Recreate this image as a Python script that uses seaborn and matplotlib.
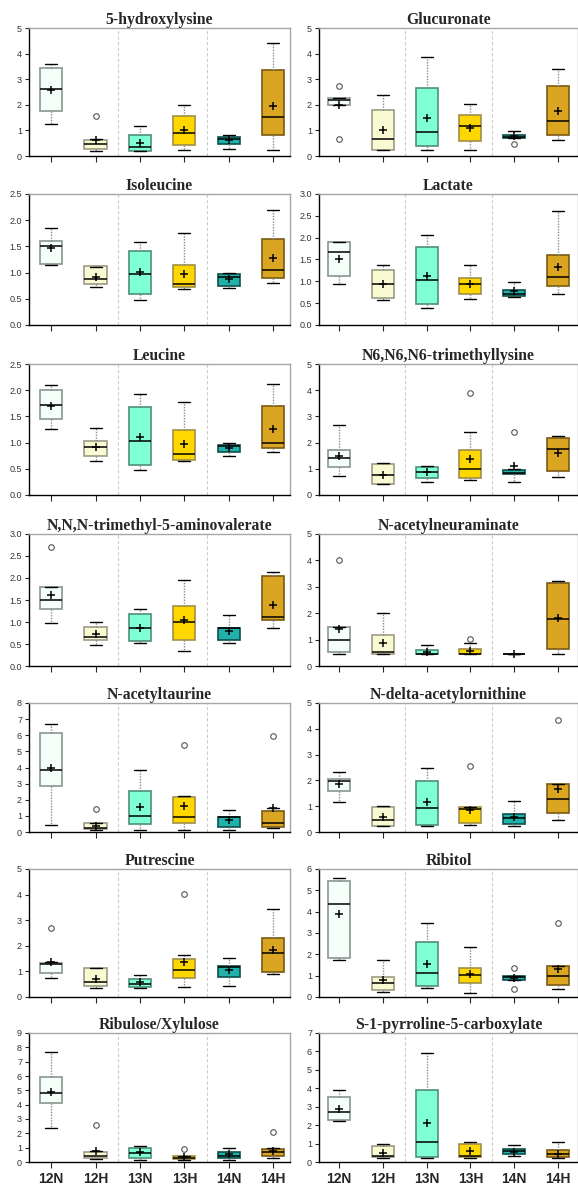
import matplotlib
matplotlib.use("Agg")
import matplotlib.pyplot as plt
import seaborn as sns

# groupes et couleurs
groups = ["12N", "12H", "13N", "13H", "14N", "14H"]
box_colors = ["#F5FFFA", "#FAFAD2", "#7FFFD4", "#FFD700", "#20B2AA", "#DAA520"]
edge_colors = ["#8a9690", "#9c9c86", "#4f8f7c", "#a0904a", "#0f4f4a", "#7a5a14"]

titles = [
    "5-hydroxylysine", "Glucuronate",
    "Isoleucine", "Lactate",
    "Leucine", "N6,N6,N6-trimethyllysine",
    "N,N,N-trimethyl-5-aminovalerate", "N-acetylneuraminate",
    "N-acetyltaurine", "N-delta-acetylornithine",
    "Putrescine", "Ribitol",
    "Ribulose/Xylulose", "S-1-pyrroline-5-carboxylate",
]
y_max = [5, 5, 2.5, 3, 2.5, 5, 3, 5, 8, 5, 5, 6, 9, 7]
y_step = [1, 1, 0.5, 0.5, 0.5, 1, 0.5, 1, 1, 1, 1, 1, 1, 1]

# valeurs (une ligne par panneau, ordre des groupes)
whis_hi = [
    [3.61, 0.66, 1.18, 2.01, 0.83, 4.42],
    [2.28, 2.39, 3.88, 2.03, 0.98, 3.39],
    [1.85, 1.11, 1.58, 1.75, 1.00, 2.19],
    [1.91, 1.38, 2.07, 1.38, 0.99, 2.62],
    [2.10, 1.28, 1.93, 1.78, 1.00, 2.12],
    [2.66, 1.21, 1.09, 2.41, 0.99, 2.25],
    [1.80, 0.99, 1.29, 1.96, 1.15, 2.14],
    [1.48, 2.01, 0.79, 0.86, 0.44, 3.21],
    [6.69, 0.54, 3.83, 2.26, 1.35, 1.47],
    [2.32, 1.02, 2.50, 0.98, 1.19, 1.87],
    [1.35, 1.14, 0.87, 1.65, 1.53, 3.45],
    [5.60, 1.73, 3.45, 2.33, 0.98, 1.43],
    [7.70, 0.80, 1.10, 0.45, 1.00, 0.95],
    [3.90, 0.95, 5.90, 1.10, 0.90, 1.10],
]
q3 = [
    [3.45, 0.64, 0.83, 1.58, 0.75, 3.34],
    [2.27, 1.78, 2.64, 1.60, 0.83, 2.72],
    [1.61, 1.12, 1.41, 1.14, 0.98, 1.64],
    [1.91, 1.25, 1.79, 1.08, 0.81, 1.61],
    [2.00, 1.03, 1.67, 1.25, 0.95, 1.69],
    [1.73, 1.17, 1.05, 1.71, 0.96, 2.16],
    [1.80, 0.89, 1.19, 1.36, 0.87, 2.05],
    [1.48, 1.17, 0.62, 0.66, 0.44, 3.14],
    [6.11, 0.54, 2.53, 2.16, 0.91, 1.28],
    [2.07, 0.96, 1.99, 0.96, 0.70, 1.87],
    [1.34, 1.12, 0.71, 1.49, 1.23, 2.29],
    [5.44, 0.96, 2.56, 1.38, 0.98, 1.43],
    [5.90, 0.70, 1.00, 0.40, 0.70, 0.90],
    [3.55, 0.85, 3.90, 1.00, 0.70, 0.65],
]
median = [
    [2.60, 0.48, 0.35, 0.88, 0.65, 1.51],
    [2.17, 0.68, 0.94, 1.18, 0.73, 1.38],
    [1.50, 0.88, 0.97, 0.78, 0.92, 1.05],
    [1.67, 0.93, 1.04, 0.93, 0.72, 1.11],
    [1.71, 0.91, 1.03, 0.79, 0.94, 1.00],
    [1.42, 0.77, 0.86, 0.98, 0.85, 1.76],
    [1.49, 0.65, 0.86, 0.99, 0.86, 1.11],
    [0.98, 0.52, 0.46, 0.46, 0.44, 1.78],
    [3.83, 0.25, 1.02, 0.91, 0.91, 0.54],
    [1.97, 0.47, 0.92, 0.89, 0.53, 1.27],
    [1.27, 0.57, 0.49, 1.04, 1.19, 1.70],
    [4.34, 0.65, 1.12, 1.03, 0.96, 0.98],
    [4.80, 0.45, 0.60, 0.30, 0.45, 0.70],
    [2.70, 0.30, 1.10, 0.35, 0.60, 0.45],
]
q1 = [
    [1.74, 0.26, 0.21, 0.42, 0.45, 0.83],
    [2.01, 0.22, 0.38, 0.58, 0.70, 0.83],
    [1.17, 0.78, 0.59, 0.72, 0.75, 0.89],
    [1.13, 0.61, 0.47, 0.70, 0.67, 0.89],
    [1.45, 0.74, 0.57, 0.67, 0.83, 0.90],
    [1.08, 0.43, 0.64, 0.63, 0.79, 0.90],
    [1.29, 0.59, 0.56, 0.60, 0.60, 1.04],
    [0.52, 0.44, 0.44, 0.44, 0.44, 0.63],
    [2.86, 0.17, 0.50, 0.54, 0.29, 0.33],
    [1.59, 0.23, 0.27, 0.34, 0.30, 0.73],
    [0.94, 0.42, 0.38, 0.73, 0.77, 0.97],
    [1.82, 0.31, 0.51, 0.64, 0.78, 0.56],
    [4.10, 0.30, 0.25, 0.20, 0.25, 0.45],
    [2.30, 0.25, 0.25, 0.25, 0.45, 0.25],
]
whis_lo = [
    [1.26, 0.21, 0.21, 0.22, 0.26, 0.22],
    [2.00, 0.22, 0.24, 0.24, 0.70, 0.63],
    [1.14, 0.72, 0.48, 0.69, 0.70, 0.81],
    [0.95, 0.58, 0.38, 0.60, 0.63, 0.70],
    [1.26, 0.65, 0.47, 0.65, 0.74, 0.83],
    [0.74, 0.43, 0.51, 0.59, 0.51, 0.70],
    [0.97, 0.47, 0.52, 0.34, 0.52, 0.86],
    [0.44, 0.44, 0.44, 0.44, 0.44, 0.44],
    [0.41, 0.10, 0.10, 0.10, 0.10, 0.23],
    [1.15, 0.23, 0.22, 0.27, 0.22, 0.47],
    [0.73, 0.34, 0.34, 0.38, 0.42, 0.88],
    [1.73, 0.25, 0.44, 0.19, 0.78, 0.39],
    [2.40, 0.20, 0.15, 0.15, 0.15, 0.30],
    [2.25, 0.20, 0.20, 0.20, 0.35, 0.20],
]
means = [
    [2.56, 0.64, 0.52, 1.01, 0.62, 1.97],
    [2.01, 1.00, 1.50, 1.10, 0.77, 1.75],
    [1.47, 0.92, 1.02, 0.97, 0.88, 1.28],
    [1.52, 0.95, 1.13, 0.93, 0.78, 1.33],
    [1.70, 0.92, 1.11, 0.98, 0.89, 1.26],
    [1.48, 0.77, 0.86, 1.37, 1.09, 1.60],
    [1.62, 0.72, 0.87, 1.04, 0.79, 1.38],
    [1.40, 0.86, 0.54, 0.57, 0.44, 1.82],
    [3.96, 0.39, 1.53, 1.62, 0.75, 1.47],
    [1.85, 0.57, 1.15, 0.85, 0.60, 1.66],
    [1.38, 0.70, 0.58, 1.35, 1.05, 1.82],
    [3.87, 0.82, 1.54, 1.06, 0.90, 1.31],
    [4.90, 0.75, 0.70, 0.35, 0.55, 0.75],
    [2.85, 0.50, 2.10, 0.60, 0.55, 0.45],
]
outliers = [
    [[], [1.56], [], [], [], []],
    [[2.73, 0.66], [], [], [], [0.45], []],
    [[], [], [], [], [], []],
    [[], [], [], [], [], []],
    [[], [], [], [], [], []],
    [[], [], [], [3.89], [2.40], []],
    [[2.71], [], [], [], [], []],
    [[4.01], [], [], [1.03], [], []],
    [[], [1.43], [], [5.41], [], [5.93]],
    [[], [], [], [2.55], [], [4.35]],
    [[2.69], [], [], [4.03], [], []],
    [[], [], [], [], [1.38, 0.39], [3.47]],
    [[], [2.60], [], [0.90], [], [2.10]],
    [[], [], [], [], [], []],
]

sns.set_theme(style="ticks")
plt.rcParams["font.family"] = ["Liberation Sans", "DejaVu Sans"]

W, H = 578, 1187
fig = plt.figure(figsize=(W / 100, H / 100), dpi=100)

row_top = [28, 194, 364, 534, 703, 869, 1033]
row_bot = [156, 325, 495, 666, 832, 997, 1162]
col_x = [(29, 290, (-0.5, 5.38)), (319, 578, (-0.46, 5.46))]

for i, title in enumerate(titles):
    r, c = divmod(i, 2)
    x0, x1, xlim = col_x[c]
    ax = fig.add_axes([x0 / W, 1 - row_bot[r] / H, (x1 - x0) / W, (row_bot[r] - row_top[r]) / H])

    stats = []
    for g in range(6):
        stats.append(dict(whislo=whis_lo[i][g], q1=q1[i][g], med=median[i][g], q3=q3[i][g],
                          whishi=whis_hi[i][g], mean=means[i][g], fliers=outliers[i][g]))

    bp = ax.bxp(stats, positions=range(6), widths=0.5, capwidths=0.27, patch_artist=True,
                showmeans=True,
                whiskerprops=dict(color="#8c8c8c", lw=1, ls=(0, (1, 1))),
                capprops=dict(color="black", lw=1),
                medianprops=dict(color="black", lw=1.1),
                meanprops=dict(marker="+", markeredgecolor="black", markersize=6, markeredgewidth=1.1),
                flierprops=dict(marker="o", markerfacecolor="none", markeredgecolor="#555555",
                                markersize=4, markeredgewidth=0.8))
    for patch, fc, ec in zip(bp["boxes"], box_colors, edge_colors):
        patch.set_facecolor(fc)
        patch.set_edgecolor(ec)
        patch.set_linewidth(1.2)

    for xv in (1.5, 3.5):
        ax.axvline(xv, color="#cccccc", lw=0.8, ls=(0, (3, 2)), zorder=0)

    ax.set_xlim(*xlim)
    ax.set_ylim(0, y_max[i])
    n = int(round(y_max[i] / y_step[i]))
    ticks = [k * y_step[i] for k in range(n + 1)]
    ax.set_yticks(ticks)
    if y_step[i] < 1:
        ax.set_yticklabels([f"{t:.1f}" for t in ticks])
    else:
        ax.set_yticklabels([f"{t:.0f}" for t in ticks])
    ax.set_xticks(range(6))
    if r == 6:
        ax.set_xticklabels(groups, fontsize=10, fontweight="bold")
    else:
        ax.set_xticklabels([])
    ax.tick_params(axis="y", labelsize=6.5, labelcolor="#333333", length=3, width=0.8, pad=2)
    ax.tick_params(axis="x", length=4, width=0.8, pad=3)

    for side in ("left", "bottom"):
        ax.spines[side].set_color("black")
        ax.spines[side].set_linewidth(1)
    for side in ("top", "right"):
        ax.spines[side].set_color("#a6a6a6")
        ax.spines[side].set_linewidth(1)

    ax.set_title(title, family=["Liberation Serif", "DejaVu Serif"], fontweight="bold",
                 fontsize=11.3, pad=3)

fig.savefig("out.png", dpi=100)
